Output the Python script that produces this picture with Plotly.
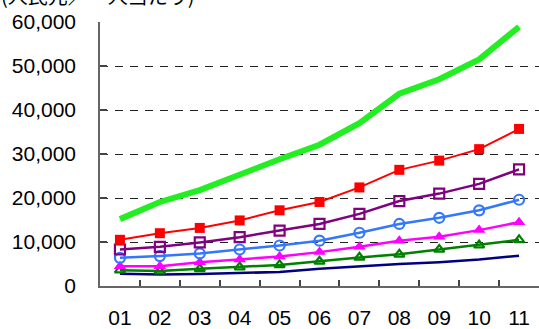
import plotly.graph_objects as go

years = ["01", "02", "03", "04", "05", "06", "07", "08", "09", "10", "11"]

s_green = [15200, 19100, 21800, 25400, 28800, 32100, 37000, 43700, 47000, 51500, 58900]
s_red = [10500, 12000, 13200, 14900, 17200, 19100, 22400, 26400, 28500, 31100, 35700]
s_purple = [8300, 8900, 9900, 11100, 12600, 14100, 16400, 19300, 21000, 23200, 26500]
s_blue = [6400, 6800, 7400, 8300, 9200, 10300, 12100, 14100, 15500, 17200, 19600]
s_magenta = [4500, 4500, 5400, 6000, 6700, 7700, 8900, 10300, 11200, 12700, 14500]
s_dkgreen = [3600, 3400, 3900, 4300, 4800, 5600, 6500, 7200, 8300, 9300, 10500]
s_navy = [2800, 2600, 2700, 3000, 3200, 3900, 4500, 5000, 5400, 6000, 6900]

y_ticks = [0, 10000, 20000, 30000, 40000, 50000, 60000]
y_labels = ["0", "10,000", "20,000", "30,000", "40,000", "50,000", "60,000"]

fig = go.Figure()

fig.add_trace(go.Scatter(x=years, y=s_navy, mode="lines",
                         line=dict(color="#000080", width=2.5)))
fig.add_trace(go.Scatter(x=years, y=s_dkgreen, mode="lines+markers",
                         line=dict(color="#008000", width=2.5),
                         marker=dict(symbol="triangle-up-open", size=9,
                                     color="#008000", line=dict(width=2.2))))
fig.add_trace(go.Scatter(x=years, y=s_magenta, mode="lines+markers",
                         line=dict(color="#FF00FF", width=2.5),
                         marker=dict(symbol="triangle-up", size=11, color="#FF00FF")))
fig.add_trace(go.Scatter(x=years, y=s_blue, mode="lines+markers",
                         line=dict(color="#3377FF", width=2.5),
                         marker=dict(symbol="circle-open", size=10,
                                     color="#3377FF", line=dict(width=2.2))))
fig.add_trace(go.Scatter(x=years, y=s_purple, mode="lines+markers",
                         line=dict(color="#800080", width=2.5),
                         marker=dict(symbol="square-open", size=10,
                                     color="#800080", line=dict(width=2.2))))
fig.add_trace(go.Scatter(x=years, y=s_red, mode="lines+markers",
                         line=dict(color="#FF0000", width=2),
                         marker=dict(symbol="square", size=10, color="#FF0000")))
fig.add_trace(go.Scatter(x=years, y=s_green, mode="lines",
                         line=dict(color="#22EE22", width=6)))

fig.update_layout(
    width=539, height=329,
    margin=dict(l=100, r=0, t=22, b=38),
    paper_bgcolor="white", plot_bgcolor="white",
    showlegend=False,
    font=dict(family="Liberation Sans, Arial, sans-serif", size=20, color="black"),
    annotations=[dict(
        text="(人民元／一人当たり)",
        xref="paper", yref="paper", x=-101 / 439, y=1.10,
        xanchor="left", yanchor="middle", showarrow=False,
        font=dict(family="Noto Sans CJK JP", size=20, color="black"),
    )],
)

fig.update_xaxes(
    type="category", range=[-0.5, 10.5],
    showline=True, linecolor="#666666", linewidth=1.5,
    ticks="inside", tickson="boundaries", ticklen=6, tickcolor="#444444",
    tickwidth=1.5, showgrid=False, ticklabelstandoff=12,
    tickfont=dict(size=21),
)
fig.update_yaxes(
    range=[0, 60000], tickvals=y_ticks, ticktext=y_labels,
    showline=True, linecolor="#666666", linewidth=1.5,
    ticks="inside", ticklen=7, tickcolor="#444444", tickwidth=1.5,
    showgrid=True, gridcolor="#222222", gridwidth=1, griddash="8px,7px",
    zeroline=False, ticklabelstandoff=18,
    tickfont=dict(size=21),
)

fig.write_html("out.html")
